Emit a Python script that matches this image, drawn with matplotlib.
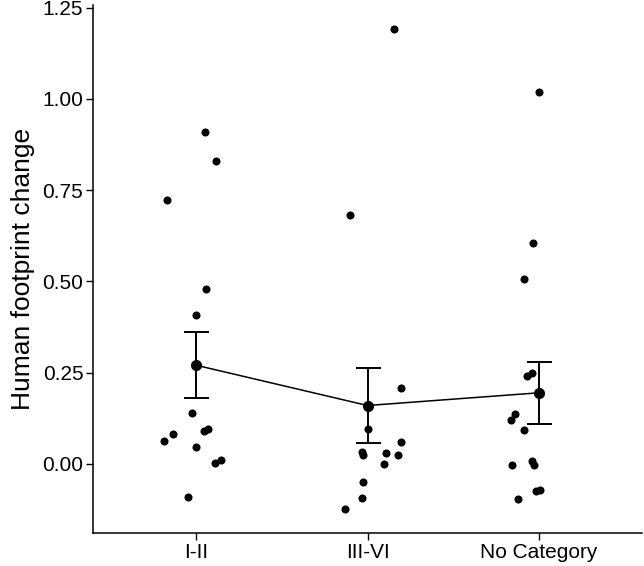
import numpy as np
import matplotlib
matplotlib.use("Agg")
import matplotlib.pyplot as plt

plt.rcParams['font.family'] = ['Liberation Sans', 'DejaVu Sans']

categories = ["I-II", "III-VI", "No Category"]

values_I_II = [0.908, 0.830, 0.722, 0.480, 0.407, 0.141, 0.096, 0.089, 0.082,
               0.062, 0.047, 0.011, 0.004, -0.091]
jitter_I_II = [0.052, 0.117, -0.167, 0.057, 0.0, -0.025, 0.072, 0.048, -0.134,
               -0.185, 0.002, 0.144, 0.111, -0.045]

values_III_VI = [1.190, 0.681, 0.209, 0.097, 0.060, 0.032, 0.025, 0.029, 0.025,
                 -0.001, -0.049, -0.093, -0.123]
jitter_III_VI = [0.156, -0.101, 0.194, 0.004, 0.194, -0.033, -0.025, 0.107, 0.179,
                 0.097, -0.025, -0.031, -0.130]

values_nocat = [1.018, 0.605, 0.506, 0.249, 0.242, 0.137, 0.120, 0.093, 0.008,
                -0.004, -0.004, -0.070, -0.073, -0.097]
jitter_nocat = [0.0, -0.033, -0.085, -0.041, -0.072, -0.140, -0.163, -0.085, -0.043,
                -0.031, -0.159, 0.008, -0.017, -0.122]

yticks = [0.00, 0.25, 0.50, 0.75, 1.00, 1.25]

groups = [(values_I_II, jitter_I_II), (values_III_VI, jitter_III_VI), (values_nocat, jitter_nocat)]

fig = plt.figure(figsize=(6.44, 5.66), dpi=100)
ax = fig.add_axes([93/644, 33/566, 549/644, 528/566])

means, ses = [], []
for i, (vals, jit) in enumerate(groups):
    v = np.array(vals)
    x = i + 1 + np.array(jit)
    ax.plot(x, v, 'o', color='black', markersize=5.8, markeredgewidth=0, zorder=3)
    means.append(v.mean())
    ses.append(v.std(ddof=1) / np.sqrt(len(v)))

pos = np.arange(1, len(categories) + 1)
ax.plot(pos, means, '-', color='black', linewidth=1.1, zorder=2)
ax.errorbar(pos, means, yerr=ses, fmt='o', color='black', markersize=7,
            elinewidth=1.4, capsize=9, capthick=1.4, zorder=4)

ax.set_xlim(0.4, 3.6)
ax.set_ylim(-0.189, 1.257)
ax.set_xticks(pos)
ax.set_xticklabels(categories)
ax.set_yticks(yticks)
ax.set_yticklabels([f"{t:.2f}" for t in yticks])
ax.set_ylabel("Human footprint change", fontsize=19, color='black', labelpad=5)
ax.tick_params(axis='both', labelsize=15, colors='black', length=5, width=1, direction='out', pad=2)
for s in ['top', 'right']:
    ax.spines[s].set_visible(False)
for s in ['left', 'bottom']:
    ax.spines[s].set_linewidth(1.1)
    ax.spines[s].set_color('black')

fig.savefig("out.png", dpi=100)
